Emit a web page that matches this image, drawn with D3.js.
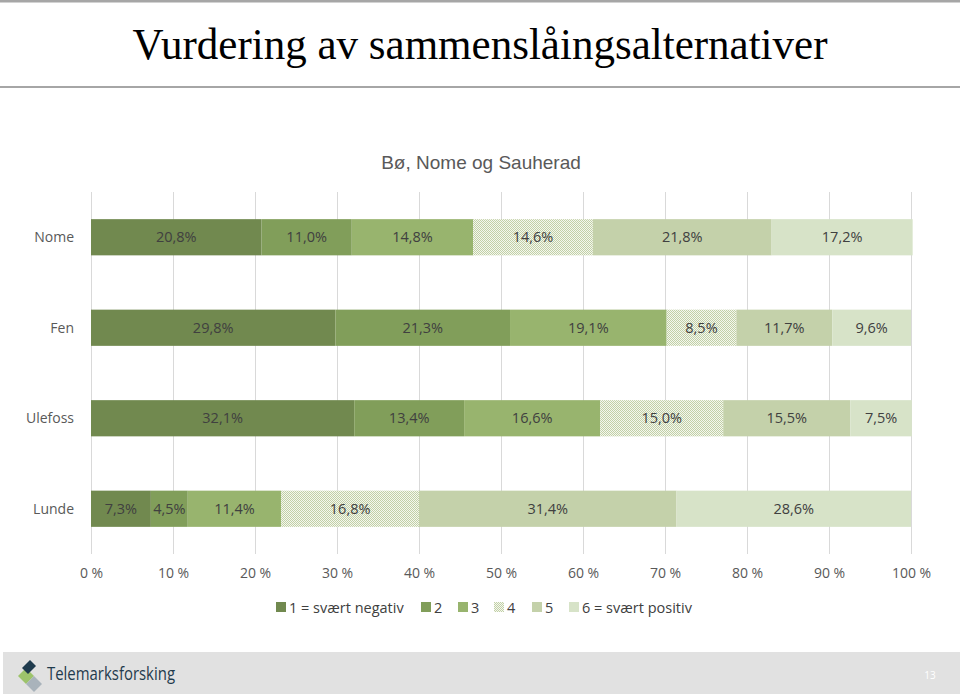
<!DOCTYPE html>
<html><head><meta charset="utf-8">
<script src="https://cdn.jsdelivr.net/npm/d3@7"></script>
<style>body{margin:0;background:#fff;} svg{display:block;}</style>
</head><body>
<script>
const categories = ["Nome", "Fen", "Ulefoss", "Lunde"];
const seriesNames = ["1 = svært negativ", "2", "3", "4", "5", "6 = svært positiv"];
const s1 = [20.8, 29.8, 32.1, 7.3];
const s2 = [11.0, 21.3, 13.4, 4.5];
const s3 = [14.8, 19.1, 16.6, 11.4];
const s4 = [14.6, 8.5, 15.0, 16.8];
const s5 = [21.8, 11.7, 15.5, 31.4];
const s6 = [17.2, 9.6, 7.5, 28.6];
const tickValues = [0, 10, 20, 30, 40, 50, 60, 70, 80, 90, 100];
const title = "Vurdering av sammenslåingsalternativer";
const subtitle = "Bø, Nome og Sauherad";

const seriesValues = [s1, s2, s3, s4, s5, s6];
const colors = ["#71894f", "#819e5a", "#98b46e", "url(#pat4)", "#c4d1aa", "#d7e3c8"];

const W = 960, H = 694;
const svg = d3.select("body").append("svg").attr("width", W).attr("height", H);

const defs = svg.append("defs");
const pat = defs.append("pattern").attr("id", "pat4").attr("patternUnits", "userSpaceOnUse")
  .attr("width", 2).attr("height", 2);
pat.append("rect").attr("width", 2).attr("height", 2).attr("fill", "#f4f7ef");
pat.append("rect").attr("width", 1).attr("height", 1).attr("fill", "#c2d0a6");
pat.append("rect").attr("x", 1).attr("y", 1).attr("width", 1).attr("height", 1).attr("fill", "#c2d0a6");

// header lines
svg.append("rect").attr("x", 0).attr("y", 0).attr("width", W).attr("height", 2.5).attr("fill", "#a6a6a6");
svg.append("rect").attr("x", 0).attr("y", 86).attr("width", W).attr("height", 2).attr("fill", "#a6a6a6");

svg.append("text").attr("x", 480).attr("y", 59).attr("text-anchor", "middle")
  .attr("font-family", "Liberation Serif, serif").attr("font-size", 44).attr("fill", "#000")
  .attr("textLength", 695).attr("lengthAdjust", "spacingAndGlyphs").text(title);

svg.append("text").attr("x", 481).attr("y", 169).attr("text-anchor", "middle")
  .attr("font-family", "Liberation Sans, Arial, sans-serif").attr("font-size", 19).attr("fill", "#595959")
  .text(subtitle);

const x = d3.scaleLinear().domain([0, 100]).range([91, 911]);
const y = d3.scaleBand().domain(categories).range([192, 554]).paddingInner(0.6).paddingOuter(0.3);

// gridlines
const grid = svg.append("g").attr("transform", "translate(0,192)")
  .call(d3.axisBottom(x).tickValues(tickValues).tickSize(362).tickFormat(""));
grid.select(".domain").remove();
grid.selectAll(".tick line").attr("stroke", "#d9d9d9").attr("stroke-width", 1);

// stacked data
const rows = categories.map((c, i) => {
  const o = {cat: c};
  seriesValues.forEach((s, j) => o["s" + j] = s[i]);
  return o;
});
const keys = seriesValues.map((_, j) => "s" + j);
const stack = d3.stack().keys(keys)(rows);

const font = "Open Sans, Liberation Sans, sans-serif";
stack.forEach((layer, j) => {
  const g = svg.append("g");
  g.selectAll("rect").data(layer).join("rect")
    .attr("x", d => x(d[0])).attr("y", d => y(d.data.cat))
    .attr("width", d => x(d[1]) - x(d[0])).attr("height", y.bandwidth())
    .attr("fill", colors[j]);
  g.selectAll("text").data(layer).join("text")
    .attr("x", d => (x(d[0]) + x(d[1])) / 2)
    .attr("y", d => y(d.data.cat) + y.bandwidth() / 2 + 5)
    .attr("text-anchor", "middle").attr("font-family", font).attr("font-size", 14.5)
    .attr("fill", "#404040")
    .text(d => d3.format(".1f")(d[1] - d[0]).replace(".", ",") + "%");
});

// category labels
svg.append("g").selectAll("text").data(categories).join("text")
  .attr("x", 74).attr("y", d => y(d) + y.bandwidth() / 2 + 5)
  .attr("text-anchor", "end").attr("font-family", font).attr("font-size", 14)
  .attr("fill", "#595959").text(d => d);

// x axis labels
const ax = svg.append("g").attr("transform", "translate(0,554)")
  .call(d3.axisBottom(x).tickValues(tickValues).tickSize(0).tickPadding(14).tickFormat(d => d + " %"));
ax.select(".domain").remove();
ax.selectAll("text").attr("font-family", font).attr("font-size", 14).attr("fill", "#595959");

// legend
const legendX = [276, 421, 458, 494, 532, 569];
const leg = svg.append("g");
seriesNames.forEach((n, j) => {
  leg.append("rect").attr("x", legendX[j]).attr("y", 602).attr("width", 10).attr("height", 10).attr("fill", colors[j]);
  leg.append("text").attr("x", legendX[j] + 13).attr("y", 612.5).attr("font-family", font).attr("font-size", 14.5)
    .attr("fill", "#404040").text(n);
});

// footer
svg.append("rect").attr("x", 3).attr("y", 652).attr("width", 957).attr("height", 42).attr("fill", "#e1e1e1");
const logo = svg.append("g").attr("transform", "translate(30,673)");
logo.append("polygon").attr("points", "-12,3 -4,-5 4,3 -4,11").attr("fill", "#9dc36b");
logo.append("polygon").attr("points", "-4,11 4,3 12,11 4,19").attr("fill", "#a9b3bb");
logo.append("polygon").attr("points", "-8,-5 0,-13 6,-7 -2,1").attr("fill", "#1f3b4d");
svg.append("text").attr("x", 47).attr("y", 680).attr("font-family", "Open Sans, sans-serif")
  .attr("font-size", 18).attr("fill", "#1f3b4d").attr("textLength", 128).attr("lengthAdjust", "spacingAndGlyphs")
  .text("Telemarksforsking");
svg.append("text").attr("x", 930).attr("y", 679).attr("text-anchor", "middle").attr("font-family", font)
  .attr("font-size", 10).attr("fill", "#ffffff").text("13");
</script>
</body></html>
